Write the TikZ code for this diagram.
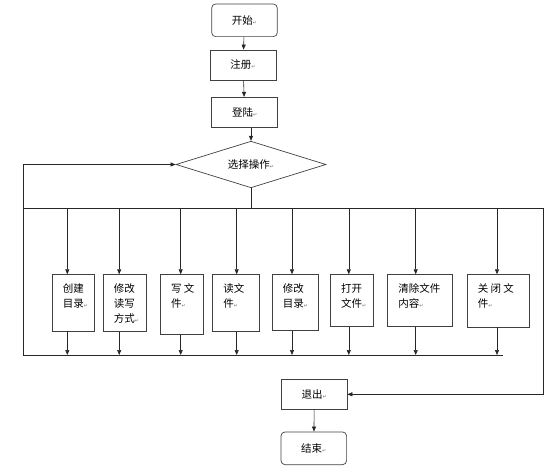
\documentclass[tikz,border=0pt]{standalone}
\usepackage{fontspec}
\setmainfont{Noto Sans CJK SC}
\newfontfamily\symfont{DejaVu Sans}
\usetikzlibrary{shapes.geometric,arrows.meta,positioning}

% paragraph mark after each text
\newcommand{\ret}{{\symfont\fontsize{5}{5}\selectfont\textcolor{black!55}{↵}}}
% top aligned text in an operation box
\newcommand{\optext}[3]{\parbox[c][#2][t]{#1}{\vspace*{9pt}\raggedright\leftskip=10.7pt #3}}

\tikzset{
  base/.style={draw=black!75, line width=0.7pt},
  startstop/.style={base, rounded corners=4pt, minimum width=65.6pt, minimum height=32.7pt, inner sep=0pt},
  process/.style={base, minimum width=66pt, minimum height=30pt, inner sep=0pt},
  decision/.style={base, diamond, aspect=3.2, inner sep=0pt, minimum width=150pt, minimum height=46.6pt},
  opbox/.style={base, anchor=north west, inner sep=0pt},
  link/.style={draw=black!85, line width=0.6pt}
}

\begin{document}
\begin{tikzpicture}[x=1pt, y=-1pt, >={Triangle[length=5pt,width=4pt]},
    every node/.style={font=\fontsize{10.5}{15}\selectfont}]
  \useasboundingbox (0,0) rectangle (553,473);

  % main flow
  \node[startstop] (start) at (244.5,20.3) {开始\ret};
  \node[process] (reg) at (243,65) {注册\ret};
  \node[process] (login) at (244.7,112.3) {登陆\ret};
  \node[decision] (choose) at (251,164.5) {选择操作\ret};

  \draw[link,->] (start) -- (reg);
  \draw[link,->] (reg) -- (login);
  \draw[link,->] (login.south -| choose) -- (choose.north);

  % operations
  \node[opbox] (op1) at (51.7,274.3) {\optext{42.6pt}{56.4pt}{创建\\目录\ret}};
  \node[opbox] (op2) at (102.7,274.3) {\optext{43pt}{56.7pt}{修改\\读写\\方式\ret}};
  \node[opbox] (op3) at (160,274.3) {\optext{43.3pt}{59.7pt}{写 文\\件\ret}};
  \node[opbox] (op4) at (212.3,274.3) {\optext{46.4pt}{56.7pt}{读文\\件\ret}};
  \node[opbox] (op5) at (271.7,274.3) {\optext{46pt}{55.7pt}{修改\\目录\ret}};
  \node[opbox] (op6) at (330,274.3) {\optext{43.3pt}{51.7pt}{打开\\文件\ret}};
  \node[opbox] (op7) at (387.3,274.3) {\optext{64.4pt}{51.7pt}{清除文件\\内容\ret}};
  \node[opbox] (op8) at (466.7,274.3) {\optext{62.6pt}{52.4pt}{关 闭 文\\件\ret}};

  % bus lines
  \coordinate (busL) at (23,208);
  \coordinate (busR) at (543,208);
  \coordinate (botL) at (23,355);
  \coordinate (botR) at (503,355);

  \draw[link] (choose.south) -- (choose.south |- busL);
  \draw[link] (busL) -- (busR);
  \draw[link,->] (botR) -- (botL) |- (choose.west);

  \foreach \i/\x in {1/67.3, 2/119.2, 3/180.7, 4/236.7, 5/292, 6/348.8, 7/415.7, 8/497}{
    \coordinate (bus\i) at (\x,208);
    \draw[link,->] (bus\i) -- (bus\i |- op\i.north);
    \draw[link,->] (bus\i |- op\i.south) -- (bus\i |- botL);
  }

  % exit
  \node[process, minimum width=65.3pt] (quit) at (314.3,394.3) {退出\ret};
  \node[startstop] (stop) at (313.8,448.3) {结束\ret};

  \draw[link,->] (busR) |- (quit.east);
  \draw[link,->] (quit) -- (stop);
\end{tikzpicture}
\end{document}
